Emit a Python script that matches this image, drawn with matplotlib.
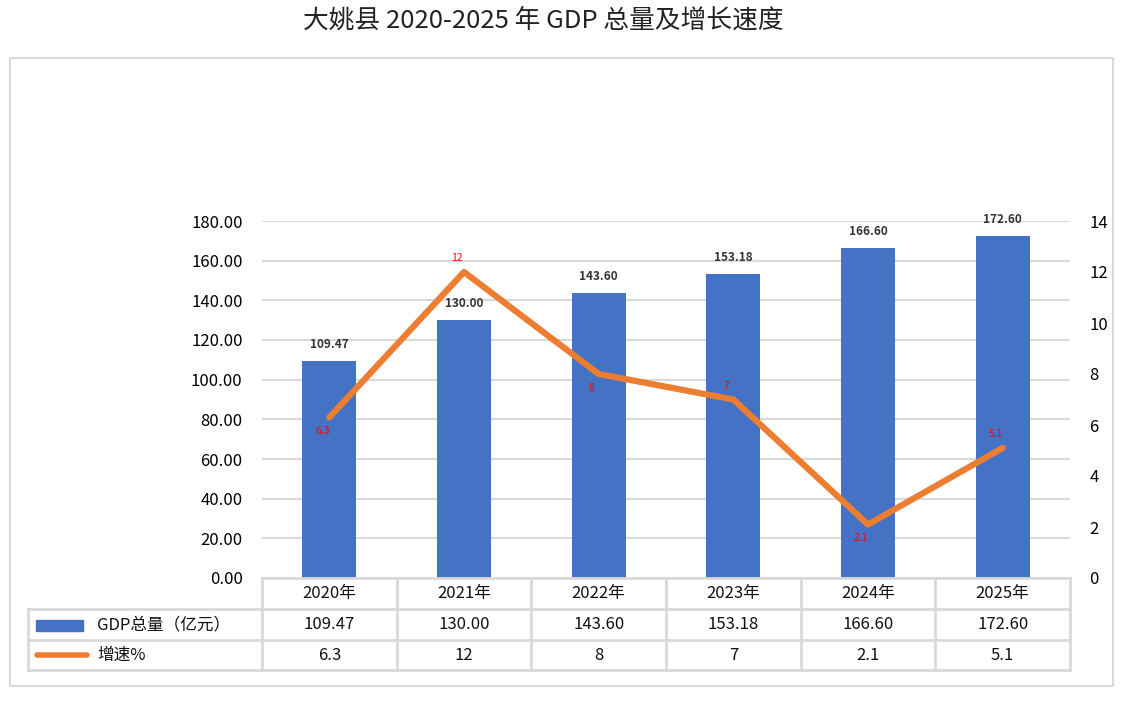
import matplotlib.pyplot as plt
from matplotlib.patches import Rectangle
from matplotlib.lines import Line2D

plt.rcParams['font.family'] = ['Noto Sans CJK SC', 'DejaVu Sans']

years = ["2020年", "2021年", "2022年", "2023年", "2024年", "2025年"]
gdp = [109.47, 130.00, 143.60, 153.18, 166.60, 172.60]
growth = [6.3, 12, 8, 7, 2.1, 5.1]
growth_labels = ["6.3", "12", "8", "7", "2.1", "5.1"]
# label above (+1) or below (-1) the point, as in the reference
growth_side = [-1, 1, -1, 1, -1, 1]

W, H = 1126, 711
fig = plt.figure(figsize=(W / 100, H / 100), dpi=100)

def fx(px):
    return px / W

def fy(py):
    return 1 - py / H

# outer frame
fig.patches.append(Rectangle((fx(10), fy(686)), fx(1113) - fx(10), fy(58) - fy(686),
                             transform=fig.transFigure, fill=False,
                             edgecolor="#d9d9d9", linewidth=1.5))

fig.text(fx(543), fy(21), "大姚县 2020-2025 年 GDP 总量及增长速度",
         ha="center", va="center", fontsize=18.5, color="#222222")

ax = fig.add_axes([fx(262), fy(578), fx(1070) - fx(262), fy(221) - fy(578)])
x = list(range(len(years)))
bar_color = "#4472c4"
line_color = "#ed7d31"

ax.bar(x, gdp, width=0.4, color=bar_color, zorder=2)
ax.set_xlim(-0.5, len(years) - 0.5)
ax.set_ylim(0, 180)
ax.set_yticks(range(0, 181, 20))
ax.set_yticklabels([f"{v:.2f}" for v in range(0, 181, 20)], fontsize=12)
ax.set_xticks([])
ax.grid(axis="y", color="#d9d9d9", linewidth=1.5, zorder=0)
ax.set_axisbelow(True)
for s in ax.spines.values():
    s.set_visible(False)
ax.tick_params(axis="y", length=0, pad=14)

for xi, v in zip(x, gdp):
    ax.text(xi, v + 5, f"{v:.2f}", ha="center", va="bottom",
            fontsize=8.5, fontweight="bold", color="#333333")

ax2 = ax.twinx()
ax2.plot(x, growth, color=line_color, linewidth=4.5, solid_capstyle="round", zorder=3)
ax2.set_ylim(0, 14)
ax2.set_yticks(range(0, 15, 2))
ax2.tick_params(axis="y", length=0, labelsize=12, pad=14)
for s in ax2.spines.values():
    s.set_visible(False)
for xi, v, lab, side in zip(x, growth, growth_labels, growth_side):
    off = 0.35 if side > 0 else -0.35
    ax2.text(xi - 0.05, v + off, lab, ha="center",
             va="bottom" if side > 0 else "top", fontsize=7.5, color="#ff0000")

# data table below the chart
tc = "#d9d9d9"
rows_y = [578, 609, 640, 670]
bounds = [i - 0.5 for i in range(len(years) + 1)]

def hline(px0, px1, py):
    fig.lines.append(Line2D([fx(px0), fx(px1)], [fy(py), fy(py)],
                            transform=fig.transFigure, color=tc, linewidth=2))

def vline(px, py0, py1):
    fig.lines.append(Line2D([fx(px), fx(px)], [fy(py0), fy(py1)],
                            transform=fig.transFigure, color=tc, linewidth=2))

hline(262, 1070, rows_y[0])
hline(28, 1070, rows_y[1])
hline(28, 1070, rows_y[2])
hline(28, 1070, rows_y[3])
vline(28, rows_y[1], rows_y[3])
x0px, x1px = 262, 1070
for b in bounds:
    px = x0px + (b + 0.5) / len(years) * (x1px - x0px)
    vline(px, rows_y[0], rows_y[3])

row_texts = [years, [f"{v:.2f}" for v in gdp], growth_labels]
for r, texts in enumerate(row_texts):
    yc = (rows_y[r] + rows_y[r + 1]) / 2
    for xi, t in zip(x, texts):
        px = x0px + (xi + 0.5) / len(years) * (x1px - x0px)
        fig.text(fx(px), fy(yc), t, ha="center", va="center",
                 fontsize=12, color="#111111")

# legend keys in the table
fig.patches.append(Rectangle((fx(36), fy(631)), fx(83) - fx(36), fy(620) - fy(631),
                             transform=fig.transFigure, color=bar_color))
fig.lines.append(Line2D([fx(37), fx(87)], [fy(655), fy(655)], transform=fig.transFigure,
                        color=line_color, linewidth=4, solid_capstyle="round"))
fig.text(fx(97), fy(625), "GDP总量（亿元）", ha="left", va="center", fontsize=12, color="#111111")
fig.text(fx(97), fy(655), "增速%", ha="left", va="center", fontsize=12, color="#111111")

fig.savefig("out.png", dpi=100)
